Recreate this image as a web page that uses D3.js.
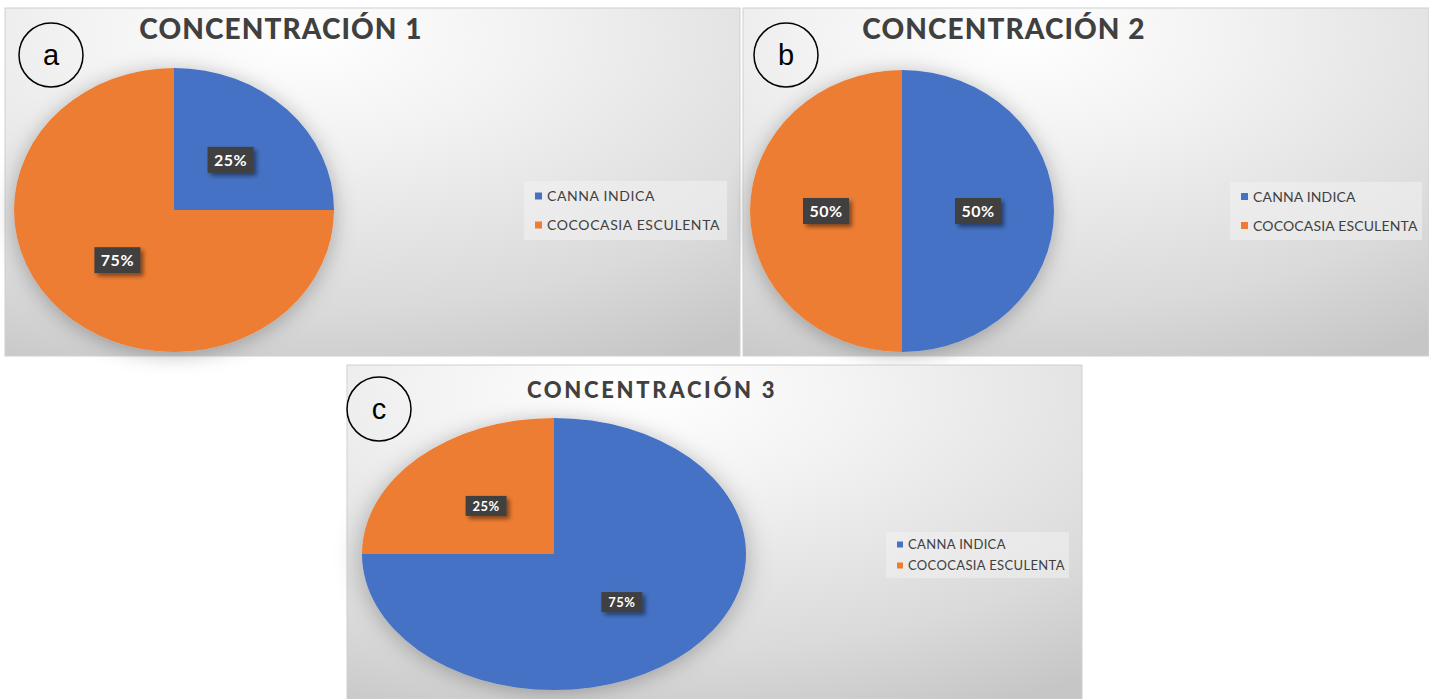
<!DOCTYPE html>
<html>
<head>
<meta charset="utf-8">
<script src="https://cdn.jsdelivr.net/npm/d3@7"></script>
<style>
  html, body { margin: 0; padding: 0; background: #fff; }
  svg { display: block; }
</style>
</head>
<body>
<svg id="chart" width="1429" height="699"></svg>
<script>
// Series: share of each species in the three mixtures
const categories = ["CANNA INDICA", "COCOCASIA ESCULENTA"];
const concentracion1 = [25, 75];
const concentracion2 = [50, 50];
const concentracion3 = [75, 25];
const titles = ["CONCENTRACIÓN 1", "CONCENTRACIÓN 2", "CONCENTRACIÓN 3"];
const panelLetters = ["a", "b", "c"];
const colors = ["#4472C4", "#ED7D31"];

const seriesList = [concentracion1, concentracion2, concentracion3];

// Panel geometry
const panels = [
  { x: 5,   y: 8,   w: 735, h: 348, cx: 174, cy: 210, rx: 160, ry: 142,
    titleX: 281, titleY: 39, titleSize: 28, titleSpacing: 1.1,
    circ: { x: 51, y: 55, r: 32 },
    legend: { x: 524, y: 181, w: 203, h: 59, fs: 14, row: 29, sp: 0.6 },
    labelFs: 16, box: [46, 26] },
  { x: 743, y: 8,   w: 686, h: 348, cx: 902, cy: 211, rx: 152, ry: 141,
    titleX: 1004, titleY: 39, titleSize: 28, titleSpacing: 1.1,
    circ: { x: 786, y: 55, r: 32 },
    legend: { x: 1230, y: 182, w: 192, h: 58, fs: 14, row: 29, sp: 0.15 },
    labelFs: 16, box: [46, 26] },
  { x: 347, y: 365, w: 735, h: 334, cx: 554, cy: 554, rx: 192, ry: 136,
    titleX: 652, titleY: 398, titleSize: 22, titleSpacing: 2.7,
    circ: { x: 379, y: 409, r: 32 },
    legend: { x: 886, y: 532, w: 183, h: 46, fs: 13, row: 21, sp: 0.35 },
    labelFs: 13, box: [41, 20] }
];

const svg = d3.select("#chart");
const defs = svg.append("defs");

// Soft grey background
const bg = defs.append("radialGradient")
  .attr("id", "panelBg")
  .attr("cx", 0.4).attr("cy", 0.08).attr("r", 1.05)
  .attr("fx", 0.4).attr("fy", 0.08);
bg.append("stop").attr("offset", "0").attr("stop-color", "#ffffff");
bg.append("stop").attr("offset", "0.3").attr("stop-color", "#f2f2f2");
bg.append("stop").attr("offset", "0.75").attr("stop-color", "#dadada");
bg.append("stop").attr("offset", "1").attr("stop-color", "#c6c6c6");

const pieShadow = defs.append("filter").attr("id", "pieShadow")
  .attr("x", "-20%").attr("y", "-20%").attr("width", "140%").attr("height", "140%");
pieShadow.append("feDropShadow")
  .attr("dx", 0).attr("dy", 2).attr("stdDeviation", 7)
  .attr("flood-color", "#000").attr("flood-opacity", 0.28);

const boxShadow = defs.append("filter").attr("id", "boxShadow")
  .attr("x", "-30%").attr("y", "-40%").attr("width", "170%").attr("height", "190%");
boxShadow.append("feDropShadow")
  .attr("dx", 3).attr("dy", 3).attr("stdDeviation", 2)
  .attr("flood-color", "#000").attr("flood-opacity", 0.45);

const pie = d3.pie().sort(null).value(d => d);
const R = 100;
const arc = d3.arc().innerRadius(0).outerRadius(R);

panels.forEach((p, i) => {
  const g = svg.append("g");
  const values = seriesList[i];

  g.append("rect")
    .attr("x", p.x).attr("y", p.y).attr("width", p.w).attr("height", p.h)
    .attr("fill", "url(#panelBg)")
    .attr("stroke", "#d0d0d0").attr("stroke-width", 1);

  // Title
  g.append("text")
    .attr("x", p.titleX).attr("y", p.titleY)
    .attr("text-anchor", "middle")
    .attr("font-family", "Lato, 'Open Sans', sans-serif")
    .attr("font-weight", 900)
    .attr("font-size", p.titleSize)
    .attr("letter-spacing", p.titleSpacing)
    .attr("fill", "#404040")
    .text(titles[i]);

  // Circled panel letter
  g.append("circle")
    .attr("cx", p.circ.x).attr("cy", p.circ.y).attr("r", p.circ.r)
    .attr("fill", "none").attr("stroke", "#000").attr("stroke-width", 1.5);
  g.append("text")
    .attr("x", p.circ.x).attr("y", p.circ.y + 10)
    .attr("text-anchor", "middle")
    .attr("font-family", "Liberation Sans, Arial, sans-serif")
    .attr("font-size", 29)
    .attr("fill", "#000")
    .text(panelLetters[i]);

  // Pie, stretched into an ellipse
  const arcs = pie(values);
  const pieG = g.append("g")
    .attr("transform", `translate(${p.cx},${p.cy}) scale(${p.rx / R},${p.ry / R})`)
    .attr("filter", "url(#pieShadow)");
  pieG.selectAll("path")
    .data(arcs)
    .join("path")
    .attr("d", arc)
    .attr("fill", (d, j) => colors[j]);

  // Value labels
  const sx = p.rx / R, sy = p.ry / R;
  const lbl = g.append("g");
  arcs.forEach(d => {
    const [ux, uy] = arc.centroid(d);
    const lx = p.cx + ux * sx, ly = p.cy + uy * sy;
    const [bw, bh] = p.box;
    lbl.append("rect")
      .attr("x", lx - bw / 2).attr("y", ly - bh / 2)
      .attr("width", bw).attr("height", bh)
      .attr("fill", "#404040")
      .attr("filter", "url(#boxShadow)");
    lbl.append("text")
      .attr("x", lx).attr("y", ly + p.labelFs * 0.36)
      .attr("text-anchor", "middle")
      .attr("font-family", "Lato, 'Open Sans', sans-serif")
      .attr("font-weight", 700)
      .attr("font-size", p.labelFs)
      .attr("letter-spacing", 0.5)
      .attr("fill", "#ffffff")
      .text(d.data + "%");
  });

  // Legend
  const L = p.legend;
  const lg = g.append("g");
  lg.append("rect")
    .attr("x", L.x).attr("y", L.y).attr("width", L.w).attr("height", L.h)
    .attr("fill", "#f2f2f2").attr("fill-opacity", 0.55);
  categories.forEach((c, j) => {
    const rowY = L.y + L.h / 2 + (j - 0.5) * L.row;
    const sq = L.fs === 14 ? 7 : 6;
    lg.append("rect")
      .attr("x", L.x + 11).attr("y", rowY - sq / 2)
      .attr("width", sq).attr("height", sq)
      .attr("fill", colors[j]);
    lg.append("text")
      .attr("x", L.x + 11 + sq + 5).attr("y", rowY + L.fs * 0.36)
      .attr("font-family", "Lato, 'Open Sans', sans-serif")
      .attr("font-size", L.fs)
      .attr("letter-spacing", L.sp)
      .attr("fill", "#404040")
      .text(c);
  });
});
</script>
</body>
</html>
